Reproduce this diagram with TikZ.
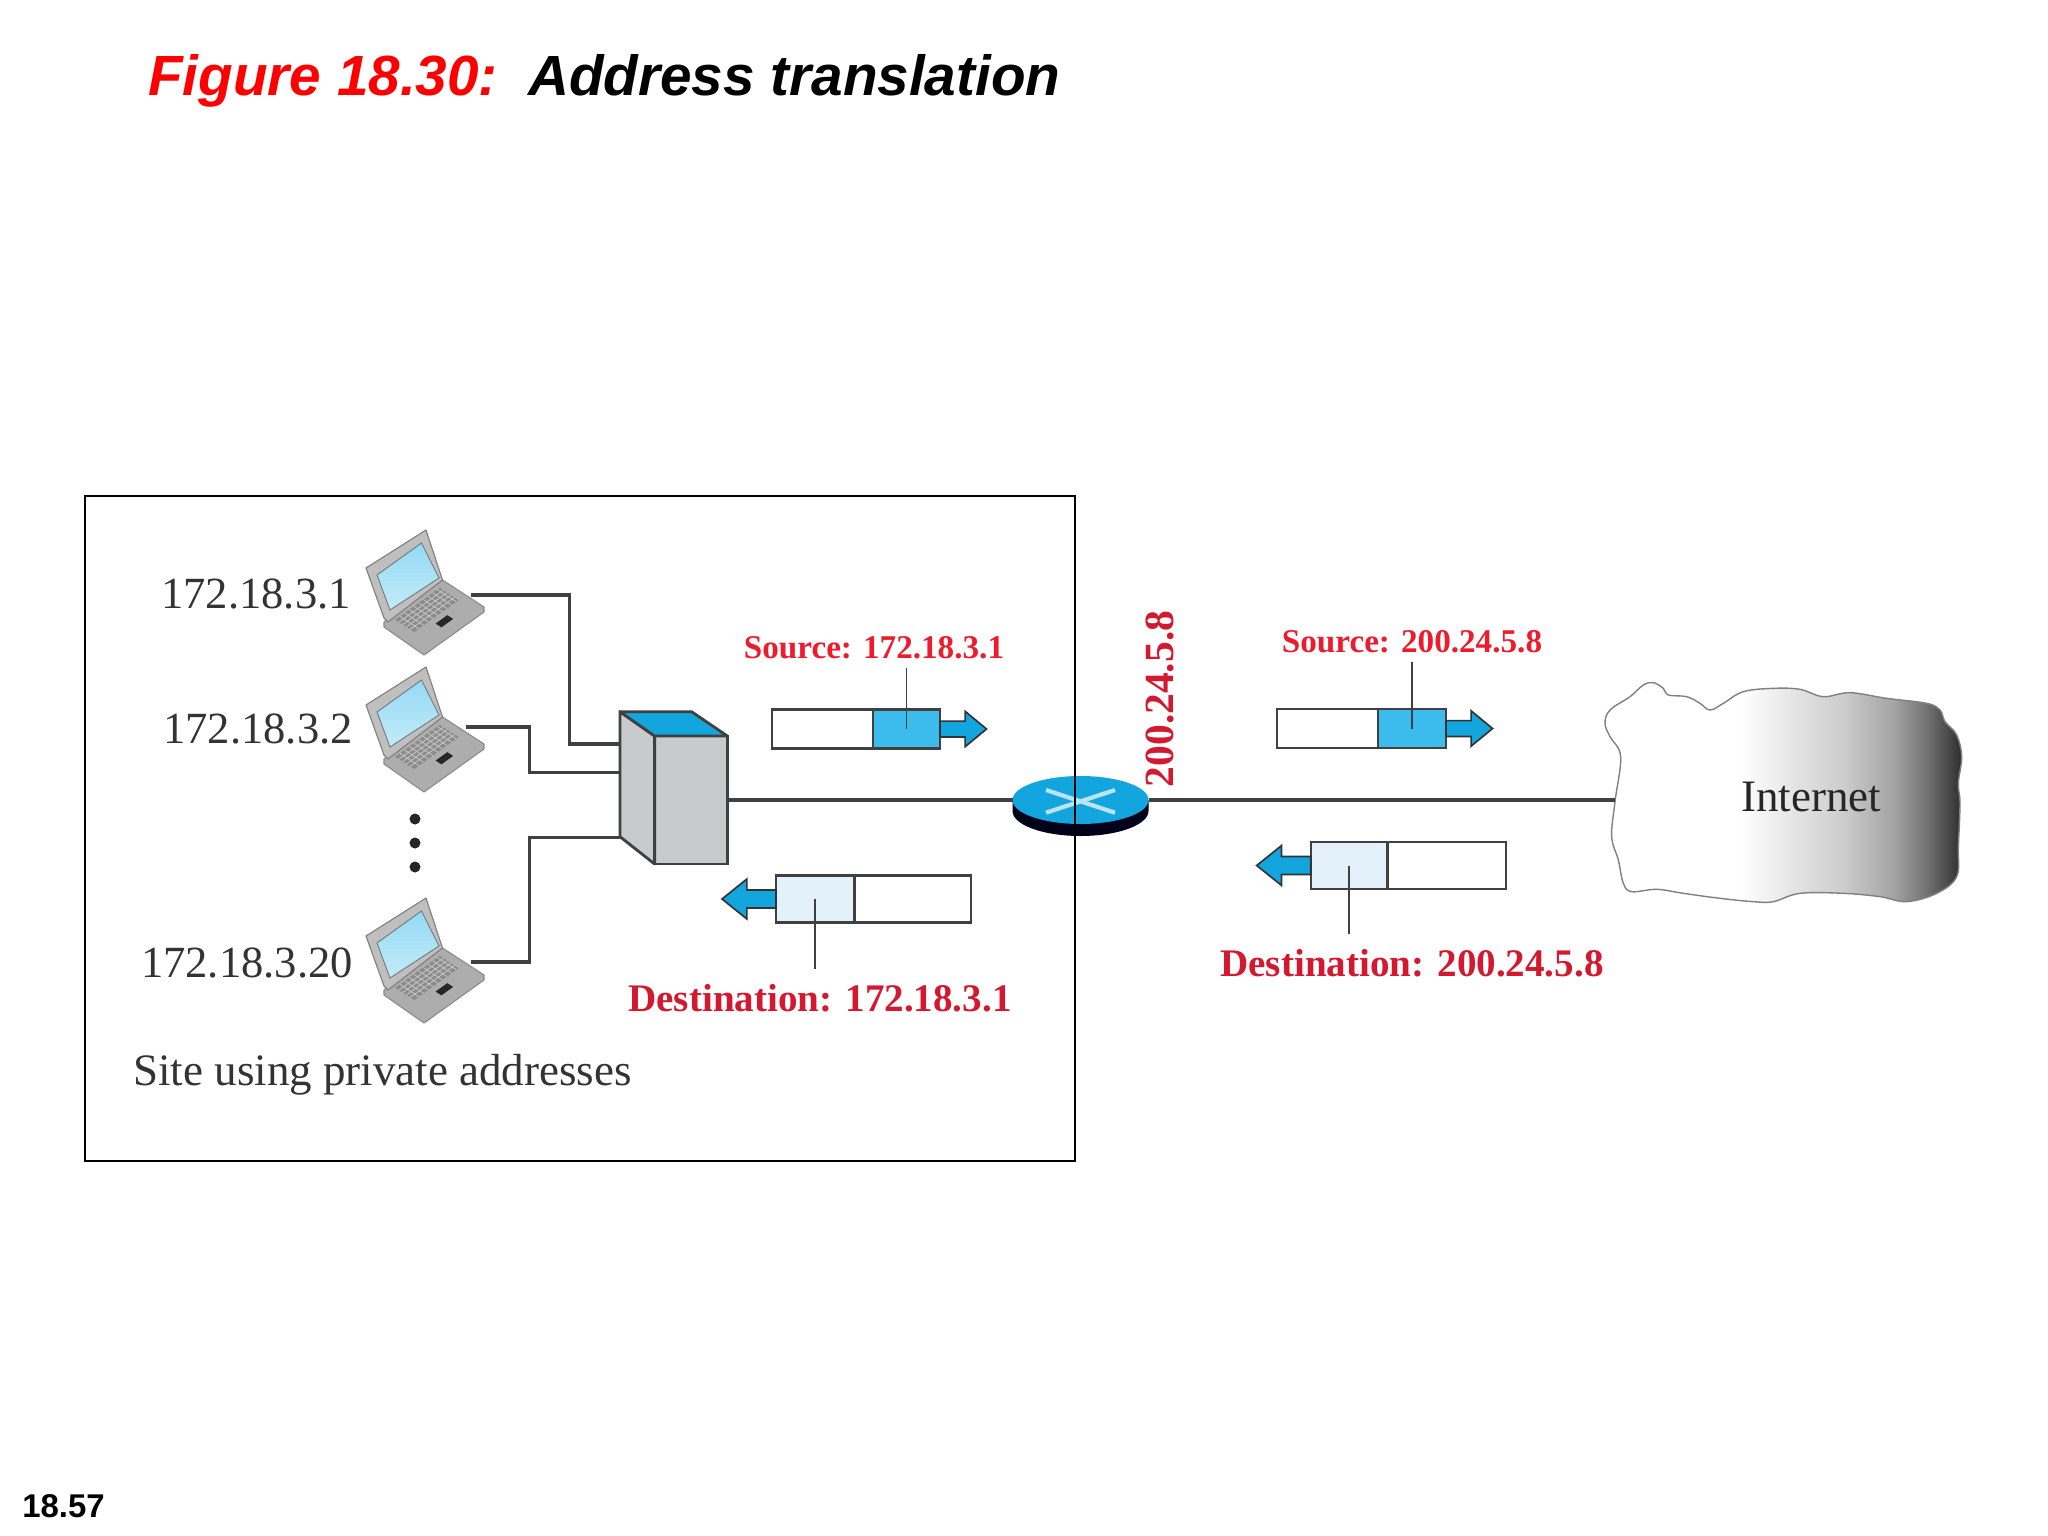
\documentclass[tikz,border=0pt]{standalone}
\usepackage{fontspec}
\setmainfont{Liberation Serif}
\newfontfamily\arialfont{Liberation Sans}
\usetikzlibrary{positioning,shapes.geometric}

\def\u{0.25mm}  % one pixel of the slide

\definecolor{wirecol}{HTML}{404040}
\definecolor{hotblue}{HTML}{13A6DE}
\definecolor{hdrblue}{HTML}{3BBCEC}
\definecolor{hdrpale}{HTML}{E2F1FA}
\definecolor{boxgrey}{HTML}{C9CACC}
\definecolor{srcred}{HTML}{EC1C2C}
\definecolor{dstred}{HTML}{D3182F}
\definecolor{titlered}{HTML}{FF0000}

\pgfdeclarehorizontalshading{cloudfade}{100bp}{
  color(0bp)=(white); color(44bp)=(white); color(58.5bp)=(black!20);
  color(65.5bp)=(black!36); color(70bp)=(black!55); color(75bp)=(black!82); color(100bp)=(black!82)}

\tikzset{
  wire/.style={draw=wirecol,line width=2.2pt},
  pkt/.style={draw=wirecol,line width=1.6pt,fill=white,inner sep=0pt,outer sep=0pt},
  tick/.style={draw=wirecol,line width=1.1pt},
  hostlabel/.style={text=black!80,font=\fontsize{31.7}{32}\selectfont,inner sep=0pt},
  srclabel/.style={text=srcred,font=\fontsize{23.6}{24}\selectfont\bfseries,inner sep=0pt},
  dstlabel/.style={text=dstred,font=\fontsize{27.8}{28}\selectfont\bfseries,inner sep=0pt},
  flow/.pic={
    \draw[draw=black!80,fill=hotblue,line width=1.2pt]
      (0,-8.5) -- (27,-8.5) -- (27,-19) -- (50,0) -- (27,19) -- (27,8.5) -- (0,8.5) -- cycle;
  },
  laptop/.pic={
    % base
    \draw[draw=black!45,fill=black!32,line width=.8pt,line join=round]
      (16.5,50) -- (-42,92) -- (-42,97) -- (-2,125) -- (58,82) -- (58,77) -- cycle;
    \begin{scope}[shift={(16.5,50)},x={({-58.5*\u},{-42*\u})},y={({41.5*\u},{-27*\u})}]
      \fill[black!45] (.12,.1) -- (.88,.1) -- (.88,.56) -- (.12,.56) -- cycle;
      \foreach \k in {.16,.24,...,.84} \draw[black!20,line width=.5pt] (\k,.1) -- (\k,.56);
      \foreach \k in {.19,.28,...,.5} \draw[black!20,line width=.5pt] (.12,\k) -- (.88,\k);
      \fill[black!85] (.4,.68) -- (.6,.68) -- (.6,.82) -- (.4,.82) -- cycle;
    \end{scope}
    % lid
    \draw[draw=black!50,fill=black!25,line width=.8pt,line join=round]
      (0,0) -- (-60,38) -- (-42,88) -- (-38,92) -- (16.5,50) -- cycle;
    \draw[draw=black!55,top color=hdrblue!55,bottom color=hdrblue!30,line width=.6pt]
      (-4.5,13) -- (-49,45) -- (-36,80) -- (13,48) -- cycle;
  }
}

\begin{document}
\begin{tikzpicture}[x=\u,y=-\u]
\useasboundingbox (0,0) rectangle (2048,1536);

% Titolo e numero di pagina
\node[anchor=base west,inner sep=0pt,text=titlered,font=\arialfont\fontsize{40.3}{42}\selectfont\bfseries\itshape] (figtitle) at (148,96) {Figure 18.30:};
\node[anchor=base west,inner sep=0pt,font=\arialfont\fontsize{40.3}{42}\selectfont\bfseries\itshape] (figname) at (528,96) {Address translation};
\node[anchor=west,inner sep=0pt,font=\arialfont\fontsize{23.4}{24}\selectfont\bfseries] (pageno) at (22,1506) {18.57};

% Portatili
\foreach \ty in {530,667,898} {
    \pic at (426,\ty) {laptop};
}
\coordinate (lapA) at (470.6,595);
\coordinate (lapB) at (466,727);
\coordinate (lapC) at (470.6,962);
\node[hostlabel,anchor=east] (hostA) at (351,594) {172.18.3.1};
\node[hostlabel,anchor=east] (hostB) at (353,729) {172.18.3.2};
\node[hostlabel,anchor=east] (hostC) at (353,963) {172.18.3.20};
\foreach \dy in {819,843,867} {
    \fill[black!85] (415,\dy) circle (5.5);
}
\node[hostlabel,anchor=base west,font=\fontsize{32}{32}\selectfont] (sitelabel) at (133,1085) {Site using private addresses};

% Switch
\node[draw=wirecol,line width=2pt,fill=boxgrey,minimum width=72.8*\u,minimum height=128*\u,inner sep=0pt,outer sep=0pt] (swfront) at (691,800) {};
\coordinate (swback) at (620,711.7);
\draw[draw=wirecol,line width=2pt,fill=boxgrey,line join=round] (swfront.north west) -- (swback) -- (620,836.7) -- (swfront.south west) -- cycle;
\draw[draw=wirecol,line width=2pt,fill=hotblue,line join=round] (swfront.north west) -- (swback) -- (691.6,711.7) -- (swfront.north east) -- cycle;
\coordinate (swA) at (620,744);
\coordinate (swB) at (620,772.7);
\coordinate (swC) at (620,837.7);
\draw[wire] (lapA) -- ++(99,0) |- (swA);
\draw[wire] (lapB) -- ++(63.5,0) |- (swB);
\draw[wire] (lapC) -- ++(59,0) |- (swC);

% Router
\fill[black!90!blue] (1012.5,811) arc[start angle=180,end angle=0,x radius=68,y radius=25] -- (1148.5,800) -- (1012.5,800) -- cycle;
\node[ellipse,fill=hotblue,minimum width=136*\u,minimum height=48*\u,inner sep=0pt,outer sep=0pt] (router) at (1080.5,800) {};
\draw[white!70!hotblue,line width=3pt] (1046,790) -- (1115,812.7);
\draw[white!70!hotblue,line width=3pt] (1046,812.7) -- (1115,790);
\draw[wire] (swfront.east) -- (router.west);
\node[rotate=90,text=dstred,font=\fontsize{29.5}{30}\selectfont\bfseries,inner sep=0pt] (pubaddr) at (1160,699) {200.24.5.8};

% Nuvola
\begin{scope}[shift={(1560,660)},scale=1/3]
\draw[draw=black!50,line width=1pt,shading=cloudfade] plot[smooth cycle,tension=.6] coordinates {
    (280,68) (310,85) (325,105) (380,110) (420,130) (450,150) (490,130) (550,95) (640,85)
    (720,88) (790,110) (870,98) (980,115) (1100,130) (1140,150) (1155,185) (1190,225)
    (1205,290) (1195,370) (1200,430) (1195,560) (1190,650) (1130,700) (1040,725) (960,710)
    (850,700) (720,700) (640,725) (580,725) (480,715) (370,700) (290,688) (215,695)
    (190,670) (175,600) (155,530) (165,425) (182,290) (150,230) (135,190) (150,150)
    (210,110) (250,75)};
\end{scope}
\node[text=black!85,font=\fontsize{32}{32}\selectfont,inner sep=0pt] (inet) at (1811,797) {Internet};
\coordinate (inetport) at (1615,800);
\draw[wire] (router.east) -- (inetport);

% Pacchetti dentro il sito
\node[pkt,minimum width=101*\u,minimum height=39*\u,anchor=west] (srcAbody) at (772,729) {};
\node[pkt,fill=hdrblue,minimum width=67*\u,minimum height=39*\u,right=0pt of srcAbody] (srcAhdr) {};
\pic at (srcAhdr.east) [scale=.93] {flow};
\node[srclabel] (srcAlabel) at (874,648) {Source: 172.18.3.1};
\draw[tick,shorten >=8*\u] (srcAhdr.center) -- (srcAhdr.center |- srcAlabel.south);

\node[pkt,fill=hdrpale,minimum width=78.5*\u,minimum height=47*\u,anchor=west] (dstAhdr) at (776,899) {};
\node[pkt,minimum width=116.5*\u,minimum height=47*\u,right=0pt of dstAhdr] (dstAbody) {};
\pic at (dstAhdr.west) [xscale=-1.08,yscale=1.05] {flow};
\node[dstlabel] (dstAlabel) at (820,998) {Destination: 172.18.3.1};
\draw[tick,shorten >=15*\u] (dstAhdr.center) -- (dstAhdr.center |- dstAlabel.north);

% Pacchetti verso Internet
\node[pkt,minimum width=101*\u,minimum height=39*\u,anchor=west] (srcBbody) at (1277,728.5) {};
\node[pkt,fill=hdrblue,minimum width=68*\u,minimum height=39*\u,right=0pt of srcBbody] (srcBhdr) {};
\pic at (srcBhdr.east) [scale=.93] {flow};
\node[srclabel] (srcBlabel) at (1412,642) {Source: 200.24.5.8};
\draw[tick,shorten >=8*\u] (srcBhdr.center) -- (srcBhdr.center |- srcBlabel.south);

\node[pkt,fill=hdrpale,minimum width=76.8*\u,minimum height=47*\u,anchor=west] (dstBhdr) at (1310.7,865.5) {};
\node[pkt,minimum width=118.5*\u,minimum height=47*\u,right=0pt of dstBhdr] (dstBbody) {};
\pic at (dstBhdr.west) [xscale=-1.08,yscale=1.05] {flow};
\node[dstlabel] (dstBlabel) at (1412,963) {Destination: 200.24.5.8};
\draw[tick,shorten >=15*\u] (dstBhdr.center) -- (dstBhdr.center |- dstBlabel.north);

% Riquadro del sito
\node[draw=black,line width=1.5pt,minimum width=990*\u,minimum height=665*\u,inner sep=0pt,outer sep=0pt] (sitebox) at (580,828.5) {};
\end{tikzpicture}
\end{document}
